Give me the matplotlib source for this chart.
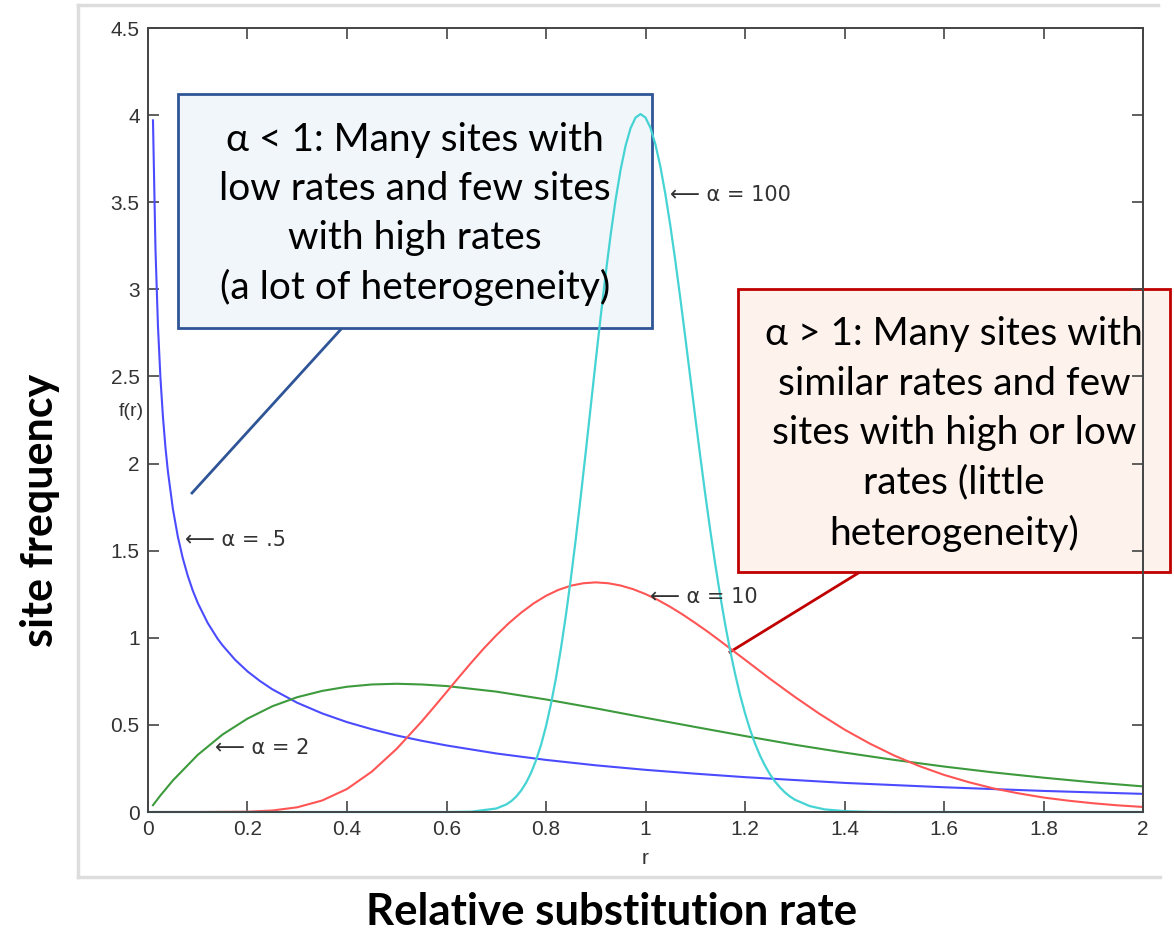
import matplotlib
matplotlib.use("Agg")
import matplotlib.pyplot as plt
from matplotlib.patches import Rectangle
from matplotlib.lines import Line2D

# ---- data ----
r_a05 = [0.01, 0.015, 0.02, 0.025, 0.03, 0.035, 0.04, 0.05, 0.06, 0.07, 0.08, 0.09, 0.10,
         0.12, 0.14, 0.15, 0.175, 0.20, 0.225, 0.25, 0.30, 0.35, 0.40, 0.45, 0.50, 0.55,
         0.60, 0.70, 0.80, 0.90, 1.00, 1.10, 1.20, 1.40, 1.60, 1.80, 2.00]
f_a05 = [3.97, 3.233, 2.79, 2.492, 2.27, 2.095, 1.955, 1.74, 1.58, 1.456, 1.355, 1.271, 1.20,
         1.085, 0.994, 0.956, 0.874, 0.807, 0.752, 0.704, 0.627, 0.566, 0.516, 0.475, 0.439,
         0.409, 0.382, 0.336, 0.299, 0.268, 0.242, 0.220, 0.200, 0.167, 0.142, 0.121, 0.104]

r_a2 = [0.01, 0.025, 0.05, 0.10, 0.15, 0.20, 0.25, 0.30, 0.35, 0.40, 0.45, 0.50, 0.55, 0.60,
        0.70, 0.80, 0.90, 1.00, 1.10, 1.20, 1.30, 1.40, 1.50, 1.60, 1.70, 1.80, 1.90, 2.00]
f_a2 = [0.039, 0.095, 0.181, 0.328, 0.445, 0.536, 0.607, 0.659, 0.695, 0.719, 0.732, 0.736,
        0.732, 0.723, 0.691, 0.646, 0.595, 0.541, 0.488, 0.436, 0.386, 0.341, 0.299, 0.261,
        0.227, 0.197, 0.170, 0.147]

r_a10 = [0.01, 0.10, 0.20, 0.25, 0.30, 0.35, 0.40, 0.45, 0.50, 0.55, 0.575, 0.60, 0.625,
         0.65, 0.675, 0.70, 0.725, 0.75, 0.775, 0.80, 0.825, 0.85, 0.875, 0.90, 0.925, 0.95,
         0.975, 1.00, 1.025, 1.05, 1.075, 1.10, 1.125, 1.15, 1.20, 1.25, 1.30, 1.35, 1.40,
         1.45, 1.50, 1.55, 1.60, 1.65, 1.70, 1.75, 1.80, 1.85, 1.90, 1.95, 2.00]
f_a10 = [0.0, 0.0001, 0.0019, 0.0086, 0.027, 0.066, 0.132, 0.232, 0.363, 0.519, 0.603, 0.688,
         0.774, 0.858, 0.939, 1.014, 1.083, 1.144, 1.197, 1.241, 1.275, 1.299, 1.313, 1.318,
         1.313, 1.300, 1.279, 1.251, 1.217, 1.177, 1.133, 1.085, 1.035, 0.982, 0.874, 0.765,
         0.661, 0.563, 0.473, 0.394, 0.324, 0.264, 0.213, 0.171, 0.135, 0.107, 0.083, 0.065,
         0.050, 0.038, 0.029]

r_a100 = [0.00, 0.60, 0.65, 0.70, 0.72, 0.73, 0.74, 0.75, 0.76, 0.77, 0.78, 0.79, 0.80, 0.81,
          0.82, 0.83, 0.84, 0.85, 0.86, 0.87, 0.88, 0.89, 0.90, 0.91, 0.92, 0.93, 0.94, 0.95,
          0.96, 0.97, 0.98, 0.99, 1.00, 1.01, 1.02, 1.03, 1.04, 1.05, 1.06, 1.07, 1.08, 1.09,
          1.10, 1.11, 1.12, 1.13, 1.14, 1.15, 1.16, 1.17, 1.18, 1.19, 1.20, 1.21, 1.22, 1.23,
          1.24, 1.25, 1.26, 1.27, 1.28, 1.29, 1.30, 1.33, 1.36, 1.40, 1.45, 1.50, 2.00]
f_a100 = [0.0, 0.0, 0.002, 0.020, 0.043, 0.062, 0.088, 0.123, 0.168, 0.225, 0.297, 0.385,
          0.492, 0.620, 0.768, 0.938, 1.130, 1.341, 1.570, 1.815, 2.070, 2.330, 2.591, 2.846,
          3.090, 3.314, 3.516, 3.687, 3.825, 3.925, 3.986, 4.006, 3.986, 3.927, 3.831, 3.703,
          3.545, 3.364, 3.163, 2.948, 2.724, 2.495, 2.267, 2.043, 1.826, 1.620, 1.426, 1.245,
          1.079, 0.929, 0.794, 0.673, 0.567, 0.474, 0.394, 0.325, 0.267, 0.217, 0.176, 0.142,
          0.113, 0.090, 0.071, 0.034, 0.015, 0.005, 0.001, 0.0, 0.0]

x_ticks = [0, 0.2, 0.4, 0.6, 0.8, 1, 1.2, 1.4, 1.6, 1.8, 2]
x_tick_labels = ["0", "0.2", "0.4", "0.6", "0.8", "1", "1.2", "1.4", "1.6", "1.8", "2"]
y_ticks = [0, 0.5, 1, 1.5, 2, 2.5, 3, 3.5, 4, 4.5]
y_tick_labels = ["0", "0.5", "1", "1.5", "2", "2.5", "3", "3.5", "4", "4.5"]

box_left_text = "α < 1: Many sites with\nlow rates and few sites\nwith high rates\n(a lot of heterogeneity)"
box_right_text = ("α > 1: Many sites with\nsimilar rates and few\nsites with high or low\n"
                  "rates (little\nheterogeneity)")

W, H = 1174, 936
fig = plt.figure(figsize=(W / 100, H / 100), dpi=100)
fig.patch.set_facecolor("white")


def fx(px):
    return px / W


def fy(py):
    return 1 - py / H


# outer light grey frame (screenshot border)
for (x0, y0, x1, y1) in [(78, 5, 78, 877), (78, 5, 1158, 5), (78, 877, 1160, 877)]:
    fig.add_artist(Line2D([fx(x0), fx(x1)], [fy(y0), fy(y1)], color="#dddddd", lw=2.5,
                          transform=fig.transFigure))

ax = fig.add_axes([fx(148), fy(812), fx(1143) - fx(148), fy(28) - fy(812)])
ax.patch.set_alpha(0)


# callout boxes (behind the curves, like the original)
def box(x0, y0, x1, y1, fc, ec):
    ax.add_artist(Rectangle((fx(x0), fy(y1)), fx(x1) - fx(x0), fy(y0) - fy(y1),
                            transform=fig.transFigure, facecolor=fc, edgecolor=ec, lw=2,
                            clip_on=False, zorder=1))


ax.add_artist(Line2D([fx(343), fx(192)], [fy(327), fy(493)], color="#2f5597", lw=2,
                     transform=fig.transFigure, clip_on=False, zorder=1))
box(178, 94, 652, 328, "#f1f6fb", "#2f5597")
ax.add_artist(Line2D([fx(860), fx(730)], [fy(572), fy(652)], color="#c00000", lw=2,
                     transform=fig.transFigure, clip_on=False, zorder=1))
box(738, 289, 1170, 572, "#fdf2ec", "#c00000")

ax.plot(r_a05, f_a05, color="#4b4bff", lw=1.5, zorder=2)
ax.plot(r_a2, f_a2, color="#3d9a3d", lw=1.5, zorder=2)
ax.plot(r_a10, f_a10, color="#ff5555", lw=1.5, zorder=2)
ax.plot(r_a100, f_a100, color="#45d3d3", lw=1.6, clip_on=False, zorder=2.1)

ax.set_xlim(0, 2)
ax.set_ylim(0, 4.5)
ax.set_xticks(x_ticks)
ax.set_xticklabels(x_tick_labels)
ax.set_yticks(y_ticks)
ax.set_yticklabels(y_tick_labels)
ax.tick_params(direction="in", length=8, width=1.2, color="#444444", top=True, right=True,
               labelsize=15, labelcolor="#333333", pad=6)
for lab in ax.get_xticklabels() + ax.get_yticklabels():
    lab.set_family("Liberation Sans")
for s in ax.spines.values():
    s.set_color("#444444")
    s.set_linewidth(1.4)
    s.set_zorder(2.5)

# box texts
fig.text(fx(415), fy(214), box_left_text, fontsize=28, ha="center", va="center",
         linespacing=1.44, family="Lato", color="black", zorder=5)
fig.text(fx(954), fy(434), box_right_text, fontsize=28, ha="center", va="center",
         linespacing=1.46, family="Lato", color="black", zorder=5)

# matlab-style labels
fig.text(fx(131), fy(411), "f(r)", fontsize=14, color="#333333", ha="center", va="center",
         family="Liberation Sans")
fig.text(fx(645), fy(858), "r", fontsize=15, color="#333333", ha="center", va="center",
         family="Liberation Sans")

# curve annotations
ann_kw = dict(fontsize=15, color="#333333", va="center", ha="left",
              family=["DejaVu Sans", "Noto Sans"])
ax.text(0.075, 1.56, "⟵ α = .5", **ann_kw)
ax.text(0.135, 0.37, "⟵ α = 2", **ann_kw)
ax.text(1.05, 3.54, "⟵ α = 100", **ann_kw)
ax.text(1.01, 1.235, "⟵ α = 10", **ann_kw)

# big axis titles
fig.text(fx(40), fy(510), "site frequency", rotation=90, fontsize=31, fontweight="bold",
         ha="center", va="center", family="Lato")
fig.text(fx(612), fy(912), "Relative substitution rate", fontsize=31.5, fontweight="bold",
         ha="center", va="center", family="Lato")

fig.savefig("out.png", dpi=100)
